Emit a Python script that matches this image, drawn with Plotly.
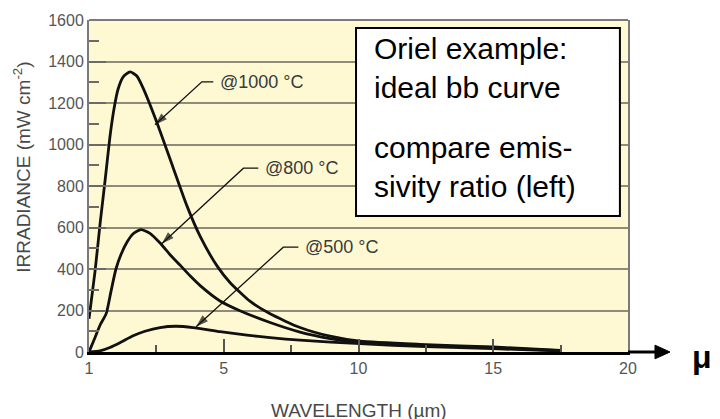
import numpy as np
import plotly.graph_objects as go

# ---- axis definition (the original x axis is evenly spaced between its labels) ----
TICK_WL = [1, 5, 10, 15, 20]
TICK_LABELS = ["1", "5", "10", "15", "20"]
MINOR_WL = [3, 7.5, 12.5, 17.5]

# ---- curve data (wavelength in um, irradiance in mW cm^-2) ----
wl_1000 = [1.0, 1.18, 1.33, 1.48, 1.62, 1.74, 1.86, 2.01, 2.22, 2.42, 2.60, 3.02, 3.49,
           3.91, 4.30, 4.80, 5.23, 5.97, 6.72, 7.83, 8.94, 10.06, 12.5, 15.0, 17.5]
irr_1000 = [160, 390, 620, 830, 1035, 1170, 1265, 1325, 1350, 1330, 1274, 1104, 892,
            703, 557, 415, 335, 245, 184, 118, 76, 52, 36, 24, 8]

wl_800 = [1.0, 1.18, 1.33, 1.51, 1.65, 1.80, 1.95, 2.13, 2.31, 2.54, 2.81, 3.11, 3.40,
          3.70, 4.00, 4.30, 4.89, 5.60, 6.72, 7.83, 8.94, 10.06, 12.5, 15.0, 17.5]
irr_800 = [0, 70, 130, 185, 290, 400, 470, 530, 570, 590, 572, 525, 470,
           419, 367, 320, 246, 199, 142, 96, 65, 45, 31, 20, 7]

wl_500 = [1.0, 1.33, 1.62, 1.92, 2.31, 2.66, 3.11, 3.58, 4.09, 4.89, 5.86, 6.72, 7.83,
          10.06, 12.5, 15.0, 17.5]
irr_500 = [0, 6, 22, 45, 78, 100, 118, 124, 118, 98, 81, 69, 57,
           40, 26, 16, 5]

curve_labels = ["@1000 °C", "@800 °C", "@500 °C"]

TICK_POS = list(range(len(TICK_WL)))


def pos(w):
    return np.interp(w, TICK_WL, TICK_POS)


FONT = "Liberation Sans, Arial, Helvetica, sans-serif"

fig = go.Figure()
for wl, irr in [(wl_1000, irr_1000), (wl_800, irr_800), (wl_500, irr_500)]:
    fig.add_trace(go.Scatter(
        x=pos(wl), y=irr, mode="lines",
        line=dict(color="#111111", width=2.8, shape="spline", smoothing=0.6),
        hoverinfo="skip"))

# label leaders: (tip wl, tip irr), (elbow wl, elbow irr), text-start wl
label_geo = [
    ((2.96, 1095), (4.35, 1302), 4.69),
    ((3.16, 522), (5.73, 886), 6.28),
    ((4.18, 122), (7.21, 505), 7.77),
]
for text, (tip, elbow, tstart) in zip(curve_labels, label_geo):
    fig.add_trace(go.Scatter(
        x=pos([tstart, elbow[0], tip[0]]), y=[elbow[1], elbow[1], tip[1]],
        mode="lines+markers", hoverinfo="skip",
        line=dict(color="#111111", width=1.3),
        marker=dict(symbol=["circle", "circle", "arrow"], size=[0, 0, 13],
                    angleref="previous", color="#111111", line=dict(width=0))))
    fig.add_annotation(x=pos(tstart), y=elbow[1], xref="x", yref="y", text=text,
                       showarrow=False, xanchor="left", yanchor="middle", xshift=5,
                       font=dict(family=FONT, size=18, color="#3a3a3a"))

# x axis extension with arrow head, and the mu
fig.add_shape(type="line", xref="paper", yref="paper", x0=1.0, x1=1.055, y0=0, y1=0,
              line=dict(color="black", width=3))
fig.add_shape(type="path", xref="paper", yref="paper",
              path="M 1.0501 0.0206 L 1.0779 0 L 1.0501 -0.0206 Z",
              fillcolor="black", line=dict(color="black", width=1))
fig.add_annotation(x=1.137, y=-0.015, xref="paper", yref="paper", text="<b>μ</b>",
                   showarrow=False, xanchor="center", yanchor="middle",
                   font=dict(family=FONT, size=32, color="black"))

# top frame line
fig.add_shape(type="line", xref="paper", yref="paper", x0=0, x1=1, y0=1, y1=1,
              line=dict(color="#7a7a7a", width=2))

# text box
fig.add_shape(type="rect", xref="paper", yref="paper",
              x0=0.4954, x1=0.985, y0=0.41, y1=0.976,
              line=dict(color="black", width=2), fillcolor="white", layer="above")
fig.add_annotation(x=0.525, y=0.856, xref="paper", yref="paper",
                   text="Oriel example:<br>ideal bb curve", showarrow=False,
                   xanchor="left", yanchor="middle", align="left",
                   font=dict(family=FONT, size=30, color="black"))
fig.add_annotation(x=0.525, y=0.557, xref="paper", yref="paper",
                   text="compare emis-<br>sivity ratio (left)", showarrow=False,
                   xanchor="left", yanchor="middle", align="left",
                   font=dict(family=FONT, size=30, color="black"))

# axis titles
fig.add_annotation(x=-0.1243, y=0.555, xref="paper", yref="paper",
                   text="IRRADIANCE (mW cm<sup>-2</sup>)", textangle=-90, showarrow=False,
                   xanchor="center", yanchor="middle",
                   font=dict(family=FONT, size=19, color="#484848"))
fig.add_annotation(x=0.501, y=-0.175, xref="paper", yref="paper",
                   text="WAVELENGTH (µm)", showarrow=False,
                   xanchor="center", yanchor="middle",
                   font=dict(family=FONT, size=19, color="#484848"))

fig.update_xaxes(range=[0, 4], tickvals=TICK_POS, ticktext=TICK_LABELS,
                 ticks="inside", ticklen=13, tickwidth=1.5, tickcolor="#555555",
                 minor=dict(tickvals=list(pos(MINOR_WL)), ticks="inside", ticklen=7,
                            tickwidth=1.5, tickcolor="#555555"),
                 showgrid=False, zeroline=False, showline=True, linecolor="black",
                 linewidth=3, mirror=False,
                 tickfont=dict(family=FONT, size=16, color="#555555"))
fig.update_yaxes(range=[0, 1600], dtick=200, ticks="inside", ticklen=17, tickwidth=1.5,
                 tickcolor="#6a6a6a",
                 minor=dict(dtick=100, ticks="inside", ticklen=10, tickwidth=1.5,
                            tickcolor="#6a6a6a", showgrid=False),
                 showgrid=True, gridcolor="#8f8b7a", gridwidth=1.5, zeroline=False,
                 showline=True, linecolor="#7a7a7a", linewidth=2, mirror=True,
                 tickfont=dict(family=FONT, size=16, color="#555555"))

fig.update_layout(width=720, height=419, margin=dict(l=89, r=92, t=13, b=67),
                  paper_bgcolor="white", plot_bgcolor="#FEF9D2", showlegend=False,
                  font=dict(family=FONT))

fig.write_html("out.html")
